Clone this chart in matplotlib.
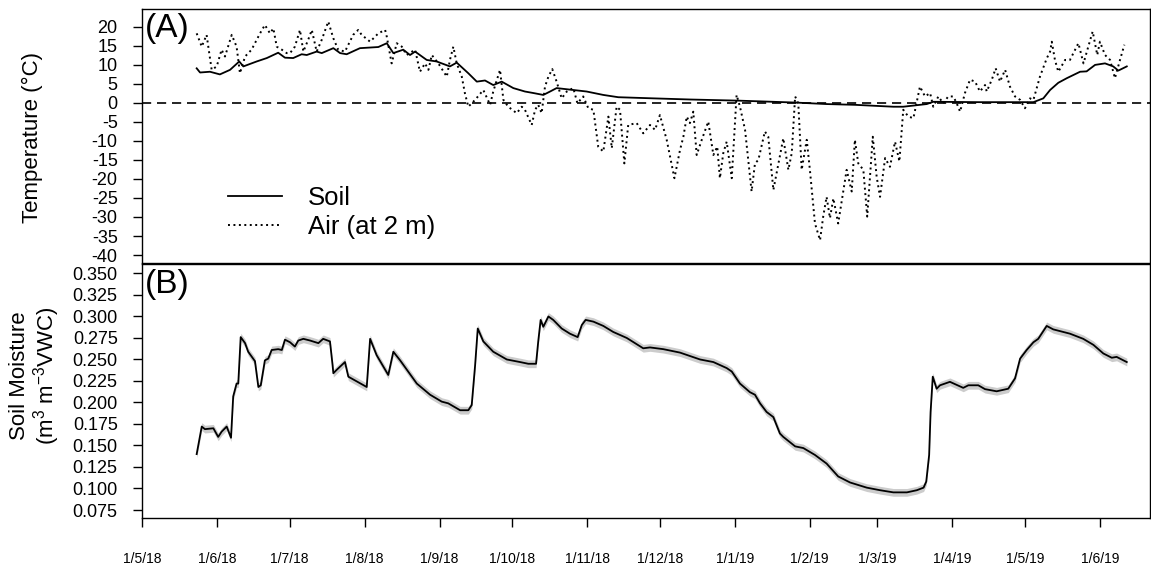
import numpy as np
import pandas as pd
import matplotlib
matplotlib.use("Agg")
import matplotlib.pyplot as plt
import matplotlib.dates as mdates
from matplotlib.ticker import FuncFormatter

plt.rcParams['font.family'] = ['Liberation Sans', 'DejaVu Sans']
plt.rcParams['mathtext.fontset'] = 'custom'
plt.rcParams['mathtext.rm'] = 'Liberation Sans'
plt.rcParams['mathtext.it'] = 'Liberation Sans:italic'
plt.rcParams['axes.linewidth'] = 1.0

# ---------------- data (days since START) ----------------
START = "2018-05-01"
END_DAY = 416.7

air_day = [22.6, 24.7, 26.7, 28.8, 30.9, 32.9, 34.3, 37.1, 39.1, 40.5,
           42.6, 45.3, 48.8, 50.8, 52.9, 54.3, 55.7, 57.8, 59.8, 61.2,
           63.2, 65.3, 66.7, 68.7, 70.2, 72.2, 74.3, 77.0, 79.1, 81.1,
           83.9, 87.3, 89.4, 90.8, 94.3, 97.7, 100.5, 101.2, 103.2, 105.3,
           107.4, 109.4, 112.9, 114.9, 117.0, 118.4, 119.8, 122.5, 126.0, 127.3,
           128.7, 130.1, 132.2, 133.5, 134.9, 137.7, 141.1, 143.9, 145.2, 148.0,
           149.4, 151.4, 154.9, 157.0, 158.3, 161.1, 162.5, 163.8, 165.2, 166.6,
           168.0, 169.6, 171.4, 173.5, 175.6, 178.3, 180.0, 182.4, 184.5, 186.6,
           188.6, 190.7, 192.8, 194.2, 196.2, 197.6, 199.4, 201.0, 204.5, 207.2,
           210.0, 212.1, 214.1, 216.9, 220.1, 222.4, 223.8, 225.2, 226.5, 227.9,
           229.3, 231.4, 234.1, 236.2, 237.8, 238.9, 240.3, 241.7, 243.8, 245.8,
           247.2, 249.3, 252.0, 253.4, 254.8, 257.5, 258.9, 261.0, 265.1, 267.2,
           268.6, 270.0, 271.3, 272.7, 274.8, 276.1, 278.2, 280.3, 281.6, 283.0,
           284.4, 285.8, 287.8, 291.3, 293.4, 294.7, 296.1, 298.2, 299.8, 302.1,
           303.7, 305.1, 307.2, 309.2, 311.3, 313.1, 314.7, 316.8, 318.9, 321.6,
           323.7, 325.8, 327.1, 329.2, 331.2, 333.3, 335.4, 336.8, 338.2, 340.2,
           342.3, 344.4, 346.4, 348.5, 349.2, 351.3, 352.9, 354.7, 356.8, 358.8,
           360.9, 363.0, 365.0, 367.1, 368.5, 371.2, 374.0, 375.4, 376.1, 377.4,
           378.8, 381.6, 383.6, 387.1, 389.2, 391.2, 393.0, 394.9, 396.0, 398.1,
           400.2, 402.2, 404.3, 406.1]
air_temp = [18.3, 14.8, 17.9, 8.7, 9.6, 14.0, 12.2, 17.9, 14.8, 7.8,
            12.2, 14.0, 18.3, 20.5, 18.3, 19.6, 14.8, 14.0, 13.1, 13.1,
            14.8, 19.2, 13.5, 16.6, 19.2, 13.5, 16.6, 21.4, 17.0, 14.0,
            13.5, 17.9, 19.2, 17.9, 16.1, 18.3, 19.2, 17.4, 10.4, 15.7,
            14.8, 12.6, 14.0, 8.2, 10.4, 8.7, 12.6, 10.4, 6.9, 11.3,
            14.8, 10.4, 6.9, 2.5, -1.0, 0.8, 3.4, -0.5, 3.0, 8.7,
            0.8, -1.0, -2.7, -1.0, -1.8, -5.8, -1.8, -0.5, -2.7, 4.3,
            6.9, 8.9, 5.6, 1.2, 3.0, 3.9, -0.1, 1.7, -1.4, -1.8,
            -11.5, -12.8, -3.6, -11.9, -1.0, -1.8, -15.9, -5.8, -5.3, -8.0,
            -5.8, -7.1, -3.2, -9.7, -19.8, -12.4, -8.9, -3.6, -5.3, -2.3,
            -13.7, -9.7, -4.9, -13.7, -11.5, -19.8, -13.2, -10.2, -19.8, 2.1,
            -1.0, -7.1, -23.3, -15.9, -15.0, -7.5, -8.9, -22.9, -9.3, -17.6,
            -13.2, 1.7, -0.1, -17.6, -9.7, -17.6, -31.7, -36.1, -29.9, -24.7,
            -30.3, -25.1, -31.7, -17.6, -23.3, -9.7, -15.9, -17.6, -29.9, -8.9,
            -19.4, -24.7, -14.5, -16.8, -10.2, -15.4, -1.8, -3.6, -4.0, 4.3,
            1.7, 2.6, -1.0, 1.7, -0.1, 1.7, 1.7, -0.1, -2.3, 2.6,
            6.1, 5.6, 3.0, 4.7, 3.0, 6.1, 9.1, 5.6, 8.7, 4.3,
            1.7, 0.8, -1.4, 1.2, 0.8, 6.9, 11.7, 13.5, 16.1, 11.3,
            8.2, 11.3, 11.3, 15.7, 10.4, 14.8, 18.8, 12.6, 16.1, 12.6,
            11.3, 6.5, 11.3, 15.3]

soil_day = [22.6, 24.0, 28.1, 32.2, 36.4, 40.2, 41.9, 47.4, 51.6, 56.3,
            59.1, 62.5, 66.0, 68.1, 72.2, 74.3, 79.1, 81.9, 84.6, 90.1,
            97.7, 101.2, 103.9, 108.0, 110.8, 112.9, 117.7, 121.8, 127.3, 130.1,
            134.9, 138.4, 141.8, 145.2, 148.7, 153.5, 158.3, 161.8, 165.9, 168.7,
            171.4, 178.3, 183.8, 190.7, 196.9, 211.4, 226.5, 246.5, 270.0, 283.0,
            294.7, 310.6, 314.7, 324.4, 327.1, 346.4, 368.5, 372.6, 375.4, 378.8,
            382.3, 387.8, 390.5, 394.0, 398.1, 401.5, 403.6, 407.1]
soil_temp = [9.1, 8.0, 8.2, 7.5, 8.7, 10.9, 9.6, 10.9, 11.8, 13.2,
             11.9, 11.8, 12.8, 12.6, 13.5, 13.1, 14.4, 13.1, 12.8, 14.4,
             14.7, 15.7, 13.1, 14.0, 12.6, 13.5, 11.3, 10.9, 9.6, 10.6,
             7.8, 5.6, 5.9, 4.7, 5.6, 3.9, 3.0, 2.6, 2.1, 3.0,
             3.9, 3.4, 3.0, 2.1, 1.5, 1.2, 0.9, 0.6, 0.1, -0.3,
             -0.5, -1.0, -1.0, -0.3, 0.3, 0.2, 0.2, 1.2, 3.4, 5.3,
             6.5, 8.2, 8.3, 10.0, 10.4, 9.6, 8.5, 9.6]

sm_day = [22.6, 24.7, 26.0, 29.5, 31.5, 32.9, 35.0, 36.8, 37.7, 39.1,
          39.8, 40.8, 42.6, 43.9, 46.7, 48.1, 49.1, 50.8, 52.2, 53.6,
          56.3, 57.8, 59.1, 61.2, 63.2, 64.6, 66.7, 69.5, 72.9, 74.9,
          77.7, 78.8, 79.1, 80.5, 83.9, 85.3, 92.9, 94.3, 97.0, 101.8,
          103.9, 106.7, 113.6, 119.1, 123.9, 126.6, 131.5, 134.9, 136.3, 137.7,
          138.8, 141.1, 145.2, 150.8, 156.3, 159.7, 162.9, 163.8, 164.8, 165.9,
          168.0, 170.0, 173.5, 176.9, 180.1, 181.8, 183.4, 186.6, 190.7, 194.8,
          200.4, 207.2, 210.0, 215.5, 222.4, 230.7, 236.2, 241.7, 243.8, 247.2,
          251.3, 253.4, 255.5, 258.2, 261.0, 263.7, 265.1, 270.0, 273.4, 278.2,
          283.0, 287.8, 292.7, 299.6, 305.1, 310.6, 316.2, 320.3, 323.1, 324.2,
          325.4, 326.0, 326.9, 328.5, 329.9, 334.0, 339.5, 341.6, 345.7, 348.5,
          353.3, 358.1, 360.9, 363.0, 365.7, 368.5, 370.5, 374.0, 376.7, 383.6,
          389.1, 393.3, 397.4, 400.9, 402.9, 407.1]
sm_vwc = [0.140, 0.172, 0.169, 0.170, 0.160, 0.166, 0.172, 0.159, 0.207, 0.222,
          0.222, 0.276, 0.269, 0.259, 0.248, 0.218, 0.220, 0.249, 0.251, 0.261,
          0.262, 0.261, 0.273, 0.270, 0.265, 0.272, 0.274, 0.272, 0.269, 0.274,
          0.271, 0.243, 0.234, 0.238, 0.247, 0.230, 0.218, 0.274, 0.255, 0.232,
          0.259, 0.249, 0.222, 0.209, 0.201, 0.199, 0.191, 0.191, 0.197, 0.243,
          0.286, 0.271, 0.259, 0.250, 0.247, 0.245, 0.245, 0.271, 0.296, 0.288,
          0.300, 0.296, 0.286, 0.280, 0.276, 0.290, 0.296, 0.294, 0.289, 0.282,
          0.275, 0.263, 0.264, 0.262, 0.258, 0.250, 0.247, 0.240, 0.236, 0.222,
          0.212, 0.209, 0.199, 0.189, 0.183, 0.164, 0.160, 0.149, 0.147, 0.139,
          0.129, 0.114, 0.107, 0.101, 0.098, 0.0955, 0.0955, 0.098, 0.101, 0.108,
          0.139, 0.189, 0.230, 0.216, 0.220, 0.224, 0.217, 0.220, 0.220, 0.2155,
          0.213, 0.216, 0.228, 0.251, 0.261, 0.270, 0.274, 0.289, 0.285, 0.280,
          0.274, 0.267, 0.257, 0.252, 0.253, 0.247]
SM_BAND = 0.0045

temp_ticks = list(range(-40, 25, 5))
sm_ticks = [0.075, 0.100, 0.125, 0.150, 0.175, 0.200, 0.225, 0.250,
            0.275, 0.300, 0.325, 0.350]

# ---------------- helpers ----------------
t0 = pd.Timestamp(START)
def to_dates(days):
    return (t0 + pd.to_timedelta(np.asarray(days, dtype=float), unit="D")).to_pydatetime()

air_dates = to_dates(air_day)
soil_dates = to_dates(soil_day)
sm_dates = to_dates(sm_day)
sm_arr = np.array(sm_vwc)

W, H = 1151, 565
fig = plt.figure(figsize=(W / 100, H / 100), dpi=100)
def fx(px): return px / W
def fy(py): return 1 - py / H

axA = fig.add_axes([fx(142), fy(263), fx(1150) - fx(142), fy(9) - fy(263)])
axB = fig.add_axes([fx(142), fy(518), fx(1150) - fx(142), fy(264) - fy(518)])

xmin = t0.to_pydatetime()
xmax = (t0 + pd.Timedelta(days=END_DAY)).to_pydatetime()

# ---- panel A ----
axA.axhline(0, color='black', lw=1.2, ls=(0, (5.5, 3.5)), zorder=1)
axA.plot(soil_dates, soil_temp, color='black', lw=1.3, ls='-', label='Soil', zorder=3)
axA.plot(air_dates, air_temp, color='black', lw=1.4, ls=(0, (1, 1.8)),
         label='Air (at 2 m)', zorder=2)
axA.set_xlim(xmin, xmax)
axA.set_ylim(-42.1, 24.7)
axA.set_yticks(temp_ticks)
axA.set_yticklabels([str(t) for t in temp_ticks])
axA.tick_params(axis='y', direction='out', length=6.5, width=1.0, pad=11, labelsize=13)
axA.tick_params(axis='x', bottom=False, labelbottom=False)
leg = axA.legend(loc='center left', bbox_to_anchor=((228 - 142) / 1008, (263 - 212.5) / 254),
                 frameon=False, fontsize=18.5, handlelength=2.1, handletextpad=1.0,
                 labelspacing=0.2, borderpad=0, borderaxespad=0)

# ---- panel B ----
axB.fill_between(sm_dates, sm_arr - SM_BAND, sm_arr + SM_BAND, color='#cccccc', lw=0, zorder=1)
axB.plot(sm_dates, sm_arr, color='black', lw=1.3, zorder=2)
axB.set_xlim(xmin, xmax)
axB.set_ylim(0.0657, 0.361)
axB.set_yticks(sm_ticks)
axB.set_yticklabels([f"{v:.3f}" for v in sm_ticks])
axB.tick_params(axis='y', direction='out', length=6.5, width=1.0, pad=11, labelsize=13)
axB.xaxis.set_major_locator(mdates.MonthLocator(bymonthday=1))
def month_fmt(x, pos):
    d = mdates.num2date(x)
    return f"1/{d.month}/{d.strftime('%y')}"
axB.xaxis.set_major_formatter(FuncFormatter(month_fmt))
axB.tick_params(axis='x', direction='out', length=6.5, width=1.0, pad=18, labelsize=10)

# ---- labels ----
fig.text(fx(145), fy(28.5), '(A)', ha='left', va='center', fontsize=24)
fig.text(fx(145), fy(284), '(B)', ha='left', va='center', fontsize=24)
fig.text(fx(32), fy(137), 'Temperature (°C)', rotation=90, ha='center', va='center', fontsize=16)
fig.text(fx(20), fy(376), 'Soil Moisture', rotation=90, ha='center', va='center', fontsize=16)
fig.text(fx(47), fy(376), '(m$^{3}$ m$^{-3}$VWC)', rotation=90, ha='center', va='center', fontsize=16)

fig.savefig('out.png', dpi=100)
